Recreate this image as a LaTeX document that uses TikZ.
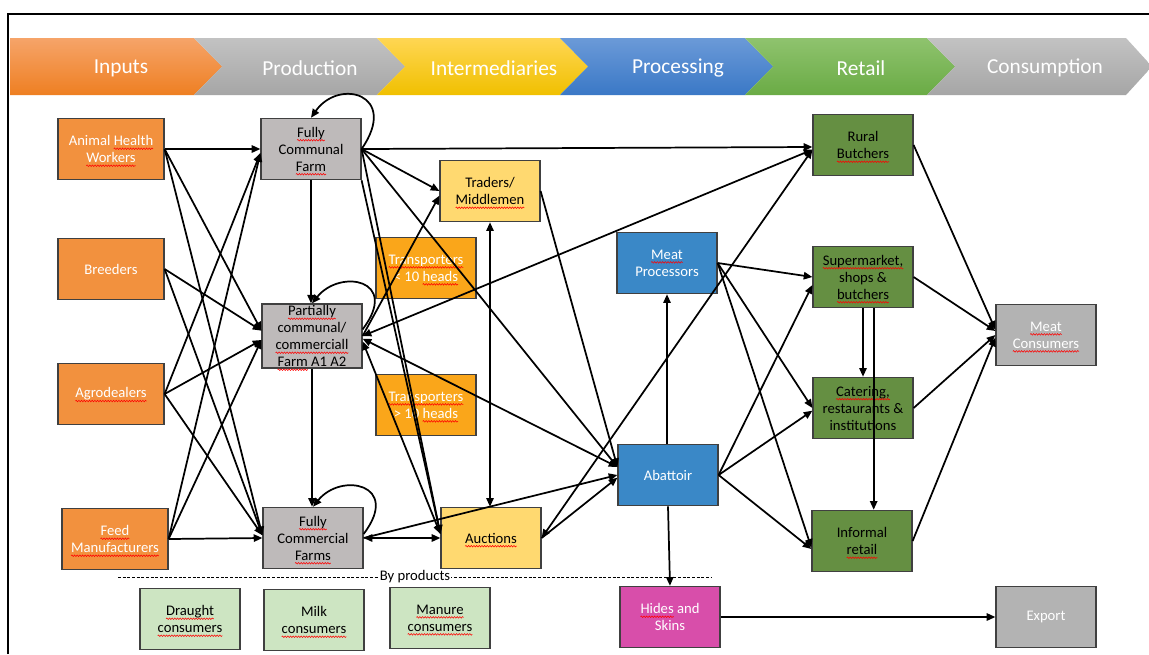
\documentclass[tikz,border=0pt]{standalone}
\usepackage{fontspec}
\setmainfont{Carlito}
\usetikzlibrary{arrows.meta,calc,decorations.pathmorphing}
\definecolor{cIn}{HTML}{F2913E}
\definecolor{cFarm}{HTML}{BEBABA}
\definecolor{cTrade}{HTML}{FFD970}
\definecolor{cTrans}{HTML}{FAA61A}
\definecolor{cProc}{HTML}{3A88C7}
\definecolor{cRet}{HTML}{658F42}
\definecolor{cCons}{HTML}{B3B3B3}
\definecolor{cHide}{HTML}{D84EAA}
\definecolor{cByp}{HTML}{CDE5C2}
\definecolor{oTop}{HTML}{F6A469}
\definecolor{oBot}{HTML}{EE7F22}
\definecolor{gTop}{HTML}{C2C2C2}
\definecolor{gBot}{HTML}{A6A6A6}
\definecolor{yTop}{HTML}{FFD653}
\definecolor{yBot}{HTML}{F0C000}
\definecolor{bTop}{HTML}{6B9AD8}
\definecolor{bBot}{HTML}{3A78C6}
\definecolor{grTop}{HTML}{8FC36E}
\definecolor{grBot}{HTML}{6AAB45}
\newcommand\sq[1]{\tikz[baseline=(w.base),x=1pt,y=1pt]{\node[inner sep=0pt,outer sep=0pt,minimum width=0pt,minimum height=0pt,draw=none,fill=none,shape=rectangle] (w) {#1};
  \draw[overlay,red,line width=0.4pt,decorate,decoration={snake,amplitude=0.6pt,segment length=2pt}] ([yshift=-2.4pt]w.base west) -- ([yshift=-2.4pt]w.base east);}}
\begin{document}
\begin{tikzpicture}[x=0.75pt,y=-0.75pt,
  >={Triangle[length=6.5pt,width=5.5pt]},
  every node/.style={font=\fontsize{11}{12.75}\selectfont},
  box/.style={draw=black!75, line width=0.9pt, minimum width=75pt, minimum height=46pt, align=center, inner sep=1pt},
  inbox/.style={box, fill=cIn, text=white, minimum width=79.5pt},
  farm/.style={box, fill=cFarm},
  trade/.style={box, fill=cTrade},
  trans/.style={box, fill=cTrans, text=white},
  proc/.style={box, fill=cProc, text=white},
  ret/.style={box, fill=cRet},
  cons/.style={box, fill=cCons, text=white},
  hide/.style={box, fill=cHide, text=white},
  byp/.style={box, fill=cByp},
  conn/.style={line width=1.3pt, ->},
  dconn/.style={line width=1.3pt, <->},
  band/.style={font=\fontsize{16}{19}\selectfont, text=white},
]
\useasboundingbox (0,0) rectangle (1149,654);
\fill[white] (0,0) rectangle (1149,654);
\draw[line width=1.5pt] (8,654) -- (8,14) -- (1149,14);

% banner
\shade[top color=oTop, bottom color=oBot] (10,38) -- (194,38) -- (222,66.5) -- (194,95) -- (10,95) -- cycle;
\shade[top color=gTop, bottom color=gBot] (194,38) -- (377,38) -- (405,66.5) -- (377,95) -- (194,95) -- (222,66.5) -- cycle;
\shade[top color=yTop, bottom color=yBot] (377,38) -- (560,38) -- (588,66.5) -- (560,95) -- (377,95) -- (405,66.5) -- cycle;
\shade[top color=bTop, bottom color=bBot] (560,38) -- (745,38) -- (773,66.5) -- (745,95) -- (560,95) -- (588,66.5) -- cycle;
\shade[top color=grTop, bottom color=grBot] (745,38) -- (927,38) -- (955,66.5) -- (927,95) -- (745,95) -- (773,66.5) -- cycle;
\shade[top color=gTop, bottom color=gBot] (927,38) -- (1126,38) -- (1152,66.5) -- (1126,95) -- (927,95) -- (955,66.5) -- cycle;
\node[band] (h1) at (121,68) {Inputs};
\node[band] (h2) at (310,68) {Production};
\node[band] (h3) at (494,68) {Intermediaries};
\node[band] (h4) at (678,68) {Processing};
\node[band] (h5) at (861,68) {Retail};
\node[band] (h6) at (1045,68) {Consumption};

% nodes
\node[inbox] (AHW) at (111,149) {Animal \sq{Health}\\\sq{Workers}};
\node[inbox] (BRE) at (111,269) {Breeders};
\node[inbox] (AGR) at (111,394) {\sq{Agrodealers}};
\node[inbox] (FEED) at (115,539) {\sq{Feed}\\\sq{Manufacturers}};

\node[farm] (FCF) at (311,149) {\sq{Fully}\\Communal\\\sq{Farm}};
\node[farm] (PCF) at (312,336) {\sq{Partially}\\communal/\\\sq{commerciall}\\\sq{Farm} A1 A2};
\node[farm] (FCOM) at (313,538) {\sq{Fully}\\Commercial\\\sq{Farms}};

\node[trade] (TRD) at (490,191) {Traders/\\\sq{Middlemen}};
\node[trans] (T1) at (426,268) {\sq{Transporters}\\< 10 \sq{heads}};
\node[trans] (T2) at (426,405) {\sq{Transporters}\\> 10 \sq{heads}};
\node[trade] (AUC) at (491,538) {\sq{Auctions}};

\node[proc] (MP) at (667,263) {\sq{Meat}\\Processors};
\node[proc] (ABT) at (668,475) {Abattoir};

\node[ret] (RB) at (863,145) {Rural\\\sq{Butchers}};
\node[ret] (SM) at (863,277) {\sq{Supermarket,}\\shops \&\\\sq{butchers}};
\node[ret] (CAT) at (863,408) {\sq{Catering,}\\restaurants \&\\institutions};
\node[ret] (INF) at (862,541) {Informal\\\sq{retail}};

\node[cons] (MC) at (1046,335) {\sq{Meat}\\\sq{Consumers}};
\node[cons] (EXP) at (1046,617) {Export};
\node[hide] (HS) at (670,617) {\sq{Hides} and\\Skins};

\node[byp] (DR) at (190,619) {\sq{Draught}\\\sq{consumers}};
\node[byp] (MI) at (314,620) {Milk\\\sq{consumers}};
\node[byp] (MA) at (440,618) {\sq{Manure}\\\sq{consumers}};

% by products separator
\draw[line width=0.6pt, dash pattern=on 2.2pt off 1.3pt] (118,577) -- (712,577);
\node[fill=white, inner sep=0.6pt] (BYP) at (415,577) {By products};

% inputs -> farms
\draw[conn] (AHW.east) -- (FCF.west);
\draw[conn] (AHW.east) -- ([yshift=4pt]PCF.west);
\draw[conn] (AHW.east) -- ([yshift=2pt]FCOM.west);
\draw[conn] (BRE.east) -- ([yshift=4pt]PCF.west);
\draw[conn] (BRE.east) -- ([yshift=2pt]FCOM.west);
\draw[conn] (AGR.east) -- ([yshift=-3pt]FCF.west);
\draw[conn] (AGR.east) -- ([yshift=-3pt]PCF.west);
\draw[conn] (AGR.east) -- ([yshift=2pt]FCOM.west);
\draw[conn] (FEED.east) -- ([yshift=-3pt]FCF.west);
\draw[conn] (FEED.east) -- ([yshift=-3pt]PCF.west);
\draw[conn] (FEED.east) -- (FCOM.west);

% farm chain
\draw[conn] (FCF.south) -- (FCF.south |- PCF.north);
\draw[conn] (PCF.south) -- (PCF.south |- FCOM.north);
\draw[conn] (FCF.east) .. controls +(38,-55) and +(28,-40) .. (FCF.north);
\draw[conn] ([yshift=5pt]PCF.east) .. controls +(38,-50) and +(28,-35) .. (PCF.north);
\draw[conn] ([yshift=3pt]FCOM.east) .. controls +(38,-50) and +(28,-35) .. (FCOM.north);

% fully communal outgoing
\draw[conn] (FCF.east) -- ([yshift=-1.5pt]RB.west);
\draw[conn] (FCF.east) -- (TRD.west);
\draw[conn] (FCF.east) -- ([yshift=6pt]ABT.west);
\draw[conn] (FCF.east) -- ([yshift=3pt]AUC.west);
\draw[conn] (FCF.south east) -- ([yshift=3pt]AUC.west);

% partially outgoing
\draw[conn] (PCF.east) -- ([yshift=-3.5pt]TRD.west);
\draw[dconn] (PCF.east) -- ([yshift=-3.5pt]RB.west);
\draw[dconn] ([yshift=-2pt]PCF.east) -- ([yshift=6pt]ABT.west);
\draw[dconn] ([yshift=-4pt]PCF.east) -- ([yshift=3pt]AUC.west);

% traders / auctions
\draw[dconn] (TRD.south) -- (TRD.south |- AUC.north);
\draw[conn] (TRD.east) -- ([yshift=6pt]ABT.west);
\draw[dconn] (FCOM.east) -- (AUC.west);
\draw[conn] (FCOM.east) -- (ABT.west);
\draw[conn] (AUC.east) -- ([yshift=-2pt]ABT.west);
\draw[dconn] (AUC.east) -- ([yshift=-3.5pt]RB.west);

% processing
\draw[conn] (MP.south |- ABT.north) -- (MP.south);
\draw[conn] (ABT.east) -- ([yshift=-6pt]SM.west);
\draw[conn] (ABT.east) -- ([yshift=-2pt]CAT.west);
\draw[conn] (ABT.east) -- ([yshift=-6pt]INF.west);
\draw[conn] (ABT.south) -- (HS.north);
\draw[conn] (MP.east) -- (SM.west);
\draw[conn] (MP.east) -- (CAT.west);
\draw[conn] (MP.east) -- ([yshift=-5pt]INF.west);

% retail
\draw[conn] (RB.east) -- ([yshift=4pt]MC.west);
\draw[conn] (SM.east) -- ([yshift=3pt]MC.west);
\draw[conn] (CAT.east) -- (MC.west);
\draw[conn] (INF.east) -- ([yshift=-2pt]MC.west);
\draw[conn] (SM.south) -- (SM.south |- CAT.north);
\draw[conn] ([xshift=8pt]SM.south) -- ([xshift=8pt]SM.south |- INF.north);
\draw[conn] (HS.east) -- (EXP.west);
\end{tikzpicture}
\end{document}
